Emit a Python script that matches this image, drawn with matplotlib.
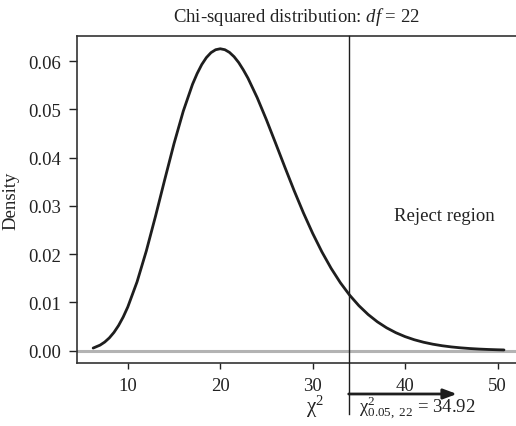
import matplotlib
matplotlib.use("Agg")
import matplotlib.pyplot as plt

# Chi-squared density (df = 22)
chi_x = [6.25, 7, 7.5, 8, 8.5, 9, 9.5, 10, 11, 12, 13, 14, 15, 16, 17, 17.5, 18, 18.5,
         19, 19.5, 20, 20.5, 21, 21.5, 22, 22.5, 23, 24, 25, 26, 27, 28, 29, 30, 31,
         32, 33, 34, 35, 36, 37, 38, 39, 40, 41, 42, 43, 44, 45, 46, 47, 48, 49, 50,
         50.7]
density = [0.000538, 0.001148, 0.001782, 0.002646, 0.003779, 0.005212, 0.006971,
           0.009067, 0.014264, 0.020654, 0.027890, 0.035490, 0.042915, 0.049633,
           0.055196, 0.057422, 0.059292, 0.060733, 0.061757, 0.062359, 0.062559,
           0.062365, 0.061806, 0.060905, 0.059693, 0.058173, 0.056471, 0.052421,
           0.047827, 0.042937, 0.037983, 0.033139, 0.028549, 0.024307, 0.020464,
           0.017051, 0.014067, 0.011501, 0.009322, 0.007493, 0.005976, 0.004733,
           0.003722, 0.002908, 0.002258, 0.001743, 0.001338, 0.001021, 0.000775,
           0.000586, 0.000440, 0.000330, 0.000246, 0.000183, 0.000147]
x_ticks = [10, 20, 30, 40, 50]
y_ticks = [0.00, 0.01, 0.02, 0.03, 0.04, 0.05, 0.06]
y_tick_labels = ["0.00", "0.01", "0.02", "0.03", "0.04", "0.05", "0.06"]
crit_line_x = 33.9
arrow_end_x = 45.6
crit_label = r"χ$^{2}_{0.05,\ 22}$ = 34.92"
chi_label = r"χ$^{2}$"
title = r"Chi-squared distribution: $\mathit{df}$ = 22"

plt.rcParams["font.family"] = ["Liberation Serif", "DejaVu Serif"]
plt.rcParams["mathtext.fontset"] = "custom"
plt.rcParams["mathtext.rm"] = "Liberation Serif"
plt.rcParams["mathtext.it"] = "Liberation Serif:italic"
plt.rcParams["mathtext.bf"] = "Liberation Serif:bold"

FS = 13.5
TXT = "#222222"

fig = plt.figure(figsize=(5.16, 4.27), dpi=100)
ax = fig.add_axes([0.1492, 0.1482, 0.8508, 0.7651])

xlim = (4.5, 52.0)
ylim = (-0.0025, 0.0652)
ax.set_xlim(*xlim)
ax.set_ylim(*ylim)

ax.axhline(0, color="#b3b3b3", lw=2.2, zorder=1)
ax.plot(chi_x, density, color="#1e1e1e", lw=2.0, solid_capstyle="round", zorder=3)

# critical value line, extending below the axes
ax.plot([crit_line_x, crit_line_x], [ylim[1], -0.01312], color="#1e1e1e", lw=1.0,
        clip_on=False, zorder=4)
ax.annotate("", xy=(arrow_end_x, -0.00898), xytext=(crit_line_x, -0.00898),
            annotation_clip=False,
            arrowprops=dict(arrowstyle="-|>,head_length=0.8,head_width=0.3",
                            color="#1e1e1e", lw=2.0, shrinkA=0, shrinkB=0))
ax.text(30.3, -0.01147, chi_label, fontsize=15, ha="center", va="center",
        color=TXT, clip_on=False)
ax.text(34.98, -0.0125, crit_label, fontsize=FS, ha="left", va="baseline",
        color=TXT, clip_on=False)

ax.text(44.25, 0.0281, "Reject region", fontsize=FS, ha="center", va="center",
        color=TXT)

ax.set_xticks(x_ticks)
ax.set_yticks(y_ticks)
ax.set_yticklabels(y_tick_labels)
ax.tick_params(axis="x", length=4.5, width=1.0, pad=6, labelsize=FS, colors=TXT)
ax.tick_params(axis="y", length=5.5, width=1.0, pad=6, labelsize=FS, colors=TXT)

for side in ["left", "top", "bottom"]:
    ax.spines[side].set_color("#333333")
    ax.spines[side].set_linewidth(1.2)
ax.spines["right"].set_visible(False)

ax.set_ylabel("Density", fontsize=FS, color=TXT, labelpad=6)
fig.text(0.5746, 0.961, title, fontsize=FS, ha="center", va="center", color=TXT)

fig.savefig("out.png", dpi=100)
